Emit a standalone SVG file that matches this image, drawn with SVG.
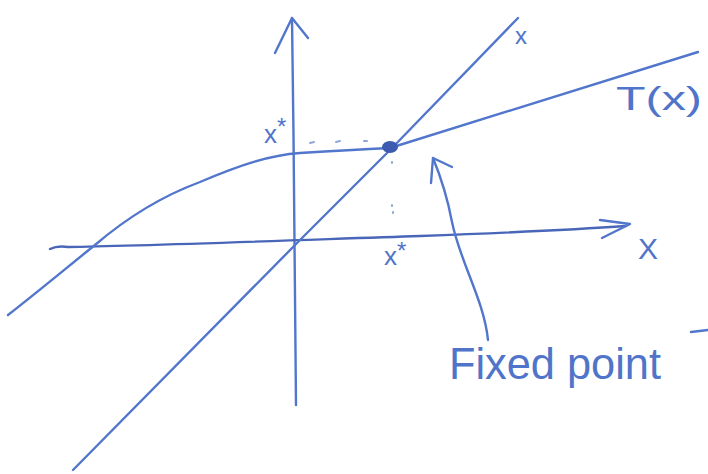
<svg xmlns="http://www.w3.org/2000/svg" width="708" height="474" viewBox="0 0 708 474">
<style>
.ln{fill:none;stroke:#5276cb;stroke-width:2.4;stroke-linecap:round;stroke-linejoin:round}
.dot{fill:none;stroke:#8fa6dc;stroke-width:2;stroke-linecap:round}
.t{fill:#4f74c9;font-family:"Liberation Sans","DejaVu Sans",sans-serif}
</style>
<rect width="708" height="474" fill="#ffffff"/>
<g id="axes">
<path class="ln" d="M296,405 C295,300 294,150 292,18"/>
<path class="ln" d="M275,53 L292,18 L308,38"/>
<path class="ln" d="M50,249 C56,246 62,246 68,247 C140,246 300,240 420,236 C500,233 570,230 626,226" style="stroke:#4a66b8"/>
<path class="ln" d="M600,220 L630,224 L602,238"/>
</g>
<g id="identity">
<path class="ln" d="M73,470 L300,240 L392,148 L518,18"/>
</g>
<g id="curve">
<path class="ln" d="M8,315 C40,290 70,265 95,245 C130,215 165,195 200,182 C240,165 270,155 300,153 Q350,150 390,148 L698,52"/>
</g>
<g id="fixed-point">
<ellipse cx="390" cy="147" rx="8" ry="6" fill="#3c5bb0"/>
<path class="dot" d="M310,143 L314,142 M336,142 L340,141 M364,141 L367,141 M392,162 L392,163 M392,205 L392,206 M393,212 L393,213"/>
</g>
<g id="labels">
<text class="t" x="264" y="143" font-size="26">x<tspan font-size="24" dy="-8">*</tspan></text>
<text class="t" x="384" y="265" font-size="26">x<tspan font-size="24" dy="-6">*</tspan></text>
<text class="t" x="515" y="44" font-size="24">x</text>
<text class="t" x="616" y="110" font-size="34" textLength="86" lengthAdjust="spacingAndGlyphs">T(x)</text>
<text class="t" x="638" y="259" font-size="30">X</text>
<text class="t" x="449" y="379" font-size="44" textLength="212" lengthAdjust="spacingAndGlyphs">Fixed point</text>
</g>
<g id="connectors">
<path class="ln" d="M488,340 C484,300 460,262 452,222 C447,195 440,175 433,158"/>
<path class="ln" d="M431,183 L433,158 L452,167"/>
<path class="ln" d="M691,332 L708,330"/>
</g>
</svg>
